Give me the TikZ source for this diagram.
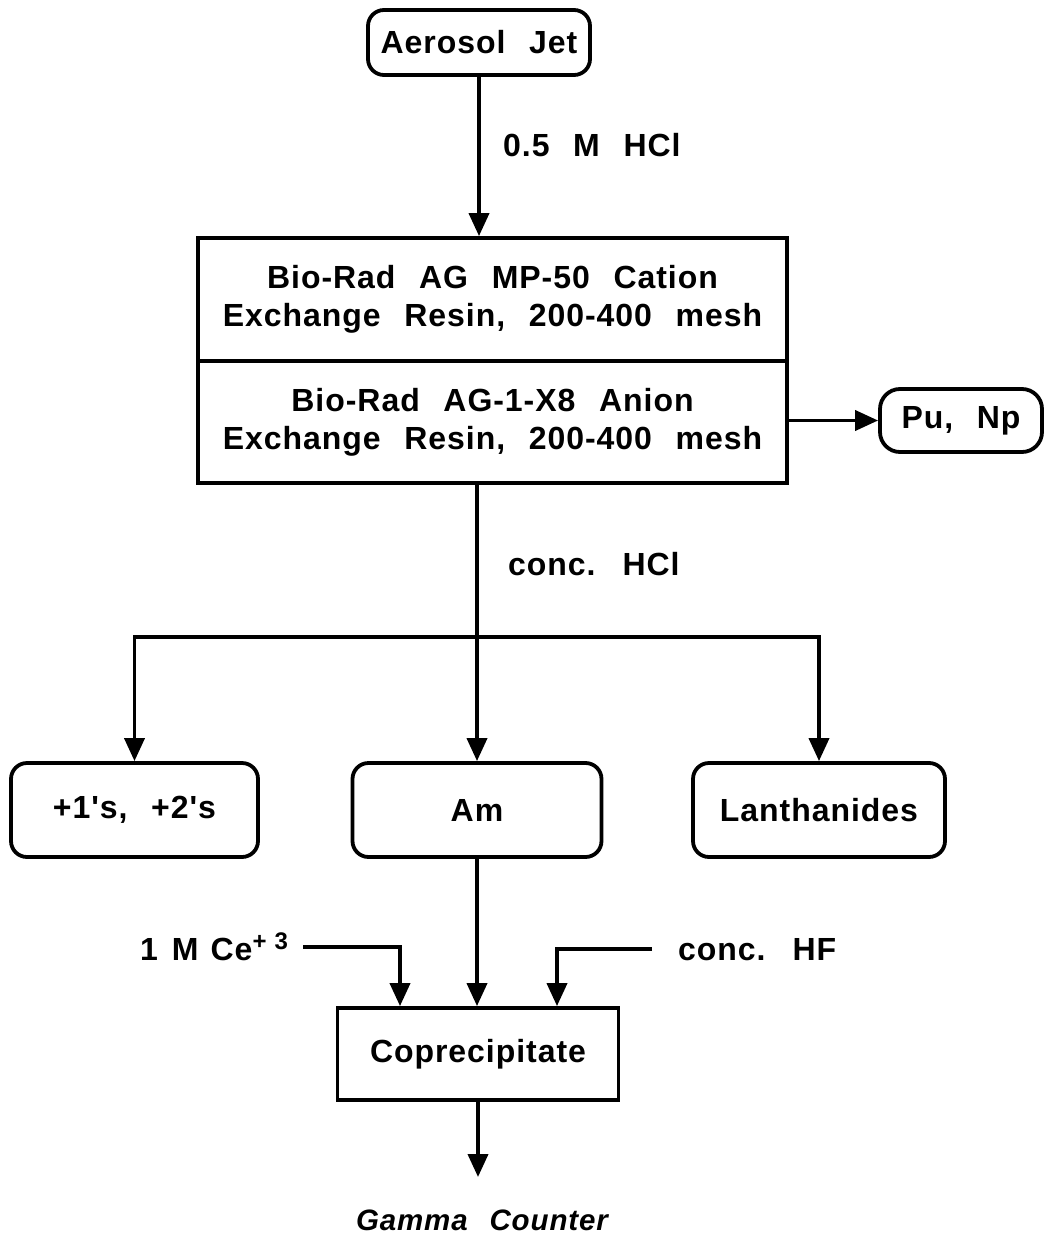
\documentclass[tikz,border=0pt]{standalone}
\usepackage{fontspec}
\usetikzlibrary{arrows.meta}
\newfontfamily\labfont{Liberation Sans}[LetterSpace=3,WordSpace=2.4]
\begin{document}
\begin{tikzpicture}[x=1pt,y=-1pt,
  every node/.style={font=\labfont\bfseries\fontsize{32}{38}\selectfont, inner sep=0pt},
  box/.style={draw, line width=3.8pt, align=center},
  rbox/.style={box, rounded corners=16pt},
  flow/.style={line width=3.8pt, -{Triangle[length=23pt,width=20pt]}},
  plain/.style={line width=3.8pt}]
\useasboundingbox (0,0) rectangle (1046,1236);

\node[rbox, minimum width=222pt, minimum height=65pt] (aj) at (479,42.5) {Aerosol Jet};
\node[anchor=base west] (hcl) at (503,157) {0.5 M HCl};

\node[box, minimum width=589pt, minimum height=123pt] (r1) at (492.5,299.5)
  {Bio-Rad AG MP-50 Cation\\Exchange Resin, 200-400 mesh};
\node[box, minimum width=589pt, minimum height=122pt] (r2) at (492.5,422)
  {Bio-Rad AG-1-X8 Anion\\Exchange Resin, 200-400 mesh};
\node[rbox, rounded corners=20pt, minimum width=162pt, minimum height=63pt] (pu) at (961,420.5) {Pu, Np};

\node[anchor=base west] (chcl) at (508,575) {conc. HCl};
\coordinate (j) at (477,637);

\node[rbox, minimum width=247pt, minimum height=94pt] (b1) at (134.5,810) {+1's,\ +2's};
\node[rbox, minimum width=249pt, minimum height=94pt] (am) at (477,810) {Am};
\node[rbox, minimum width=252pt, minimum height=94pt] (lan) at (819,810) {Lanthanides};

\node[box, minimum width=281pt, minimum height=92pt] (copr) at (478,1054) {Coprecipitate};
\node[anchor=base west] (ce) at (140,960)
  {1\hspace{14pt}M\hspace{12pt}Ce\raisebox{11pt}{\fontsize{24}{24}\selectfont+\hspace{8pt}3}};
\node[anchor=base west] (hf) at (678,960) {conc. HF};
\coordinate (ce0) at (303,947);
\coordinate (hf0) at (652,949);
\coordinate (gtip) at (478,1177);
\node[anchor=base, font=\labfont\bfseries\itshape\fontsize{29.5}{34}\selectfont] (gc) at (482,1230) {Gamma Counter};

\draw[flow] (aj.south) -- (aj.south |- r1.north);
\draw[flow] (r2.east |- pu.west) -- (pu.west);
\draw[plain] (j |- r2.south) -- (j);
\draw[flow] (j) -- (am.north);
\draw[flow] (j) -| (b1.north);
\draw[flow] (j) -| (lan.north);
\draw[flow] (am.south) -- (am.south |- copr.north);
\draw[flow] (ce0) -| ([xshift=-78pt]copr.north);
\draw[flow] (hf0) -| ([xshift=79pt]copr.north);
\draw[flow] (copr.south) -- (gtip);
\end{tikzpicture}
\end{document}
